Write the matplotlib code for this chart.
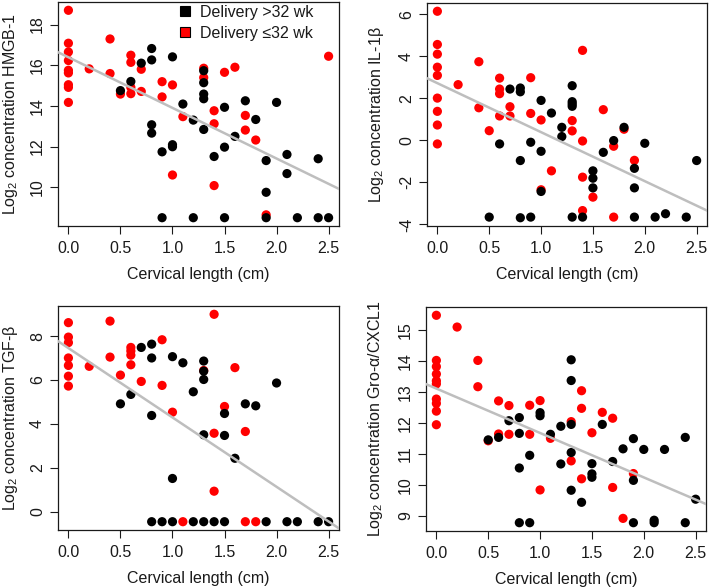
import matplotlib
matplotlib.use("Agg")
import matplotlib.pyplot as plt
from matplotlib.lines import Line2D
import numpy as np

plt.rcParams['font.family'] = ['Liberation Sans', 'DejaVu Sans']
plt.rcParams['mathtext.fontset'] = 'custom'
plt.rcParams['mathtext.rm'] = 'Liberation Sans'
plt.rcParams['mathtext.it'] = 'Liberation Sans:italic'
plt.rcParams['axes.unicode_minus'] = False

# ---------------- data ----------------
hmgb_red_x = [0, 0, 0, 0, 0, 0, 0, 0, 0, 0.2, 0.4, 0.4, 0.5, 0.6, 0.6, 0.6, 0.6, 0.7, 0.7,
              0.9, 0.9, 1.0, 1.0, 1.1, 1.3, 1.3, 1.4, 1.4, 1.4, 1.5, 1.6, 1.7, 1.7, 1.8, 1.9, 2.5]
hmgb_red_y = [18.7, 17.08, 16.65, 16.23, 15.75, 15.62, 15.04, 14.91, 14.17, 15.82, 17.29, 15.59,
              14.58, 16.49, 16.14, 14.91, 14.6, 15.8, 14.71, 15.19, 14.44, 15.03, 10.6, 13.47,
              15.85, 15.39, 13.76, 13.12, 10.08, 15.65, 15.9, 13.53, 12.81, 12.32, 8.64, 16.44]
hmgb_black_x = [0.5, 0.6, 0.7, 0.8, 0.8, 0.8, 0.8, 0.9, 0.9, 1.0, 1.0, 1.0, 1.1, 1.2, 1.2,
                1.3, 1.3, 1.3, 1.3, 1.3, 1.4, 1.5, 1.5, 1.5, 1.6, 1.7, 1.8, 1.9, 1.9, 1.9,
                2.0, 2.1, 2.1, 2.2, 2.4, 2.4, 2.5]
hmgb_black_y = [14.75, 15.2, 16.1, 16.82, 16.26, 13.07, 12.66, 11.74, 8.5, 16.41, 12.09, 11.99,
                14.09, 13.3, 8.5, 15.73, 15.14, 14.58, 14.35, 12.84, 11.51, 13.93, 11.97, 8.5,
                12.5, 14.25, 13.33, 11.31, 9.75, 8.5, 14.17, 11.61, 10.67, 8.5, 11.4, 8.5, 8.5]

il_red_x = [0, 0, 0, 0, 0, 0, 0, 0, 0, 0.2, 0.4, 0.4, 0.5, 0.6, 0.6, 0.6, 0.6, 0.7, 0.7,
            0.9, 0.9, 1.0, 1.0, 1.1, 1.3, 1.3, 1.4, 1.4, 1.4, 1.4, 1.5, 1.6, 1.7, 1.7, 1.8, 1.9]
il_red_y = [6.14, 4.56, 4.1, 3.48, 3.09, 2.01, 1.38, 0.73, -0.17, 2.65, 3.74, 1.55, 0.46,
            2.96, 2.44, 2.22, 1.16, 1.6, 1.16, 2.98, 1.28, 0.97, -2.35, -1.45, 0.94, 0.45,
            4.28, -0.03, -1.75, -3.34, -2.7, 1.46, -0.28, -3.65, 0.53, -0.95]
il_black_x = [0.5, 0.6, 0.7, 0.8, 0.8, 0.8, 0.8, 0.9, 0.9, 1.0, 1.0, 1.0, 1.1, 1.2, 1.2,
              1.3, 1.3, 1.3, 1.3, 1.3, 1.4, 1.5, 1.5, 1.5, 1.6, 1.7, 1.8, 1.9, 1.9, 1.9,
              2.0, 2.1, 2.2, 2.4, 2.5]
il_black_y = [-3.65, -0.17, 2.44, 2.49, 2.31, -0.96, -3.68, -0.09, -3.65, 1.9, -0.52, -2.43,
              1.3, 0.62, 0.18, 2.6, 1.84, 1.73, 1.62, -3.65, -3.65, -1.45, -1.8, -2.26,
              -0.57, -0.01, 0.62, -1.33, -2.26, -3.65, -0.14, -3.65, -3.49, -3.65, -0.96]

tgf_red_x = [0, 0, 0, 0, 0, 0, 0, 0.2, 0.4, 0.4, 0.5, 0.6, 0.6, 0.6, 0.6, 0.7, 0.9, 0.9,
             1.0, 1.1, 1.3, 1.4, 1.4, 1.4, 1.5, 1.6, 1.7, 1.7, 1.8]
tgf_red_y = [8.61, 7.95, 7.7, 7.0, 6.66, 6.17, 5.72, 6.62, 8.68, 7.04, 6.22, 7.48, 7.32, 7.13,
             6.69, 5.93, 7.83, 5.75, 4.53, -0.46, 6.43, 8.99, 3.57, 0.93, 4.79, 6.56, 3.65,
             -0.46, -0.46]
tgf_black_x = [0.5, 0.6, 0.7, 0.8, 0.8, 0.8, 0.8, 0.9, 1.0, 1.0, 1.0, 1.1, 1.2, 1.2, 1.3,
               1.3, 1.3, 1.3, 1.3, 1.4, 1.5, 1.5, 1.5, 1.6, 1.7, 1.8, 1.9, 2.0, 2.1, 2.2,
               2.4, 2.5]
tgf_black_y = [4.91, 5.34, 7.48, 7.63, 7.0, 4.38, -0.46, -0.46, 7.06, 1.51, -0.46, 6.78,
               5.46, -0.46, 6.86, 6.4, 6.02, 3.5, -0.46, -0.46, 4.47, 3.47, -0.46, 2.43,
               4.91, 4.82, -0.46, 5.86, -0.46, -0.46, -0.46, -0.46]

gro_red_x = [0, 0, 0, 0, 0, 0, 0, 0, 0, 0, 0.2, 0.4, 0.4, 0.5, 0.6, 0.6, 0.7, 0.7, 0.9, 0.9,
             1.0, 1.0, 1.1, 1.3, 1.3, 1.4, 1.4, 1.4, 1.5, 1.6, 1.7, 1.7, 1.8, 1.9]
gro_red_y = [15.49, 14.03, 13.83, 13.59, 13.37, 13.27, 12.78, 12.64, 12.39, 11.95, 15.11,
             14.03, 13.18, 11.43, 12.72, 11.65, 12.57, 11.64, 12.58, 11.64, 12.73, 9.84,
             11.51, 12.05, 10.78, 13.05, 12.48, 10.2, 11.69, 12.35, 12.16, 9.92, 8.92, 10.37]
gro_black_x = [0.5, 0.6, 0.7, 0.8, 0.8, 0.8, 0.8, 0.9, 0.9, 1.0, 1.0, 1.1, 1.2, 1.2, 1.3,
               1.3, 1.3, 1.3, 1.3, 1.4, 1.5, 1.5, 1.5, 1.6, 1.7, 1.8, 1.9, 1.9, 1.9, 2.0,
               2.1, 2.1, 2.2, 2.4, 2.4, 2.5]
gro_black_y = [11.46, 11.54, 12.08, 12.18, 11.67, 10.55, 8.78, 10.96, 8.78, 12.34, 12.24,
               11.64, 11.9, 10.68, 14.05, 13.38, 11.96, 11.05, 9.83, 9.44, 10.69, 10.36,
               10.25, 11.96, 10.76, 11.17, 11.5, 10.15, 8.78, 11.15, 8.86, 8.78, 11.15,
               11.54, 8.78, 9.54]

# regression lines (intercept, slope)
hmgb_fit = [16.39, -2.49]
il_fit = [2.72, -2.33]
tgf_fit = [7.45, -3.16]
gro_fit = [13.12, -1.437]

y_labels = [r'Log$_2$ concentration HMGB-1', r'Log$_2$ concentration IL-1β',
            r'Log$_2$ concentration TGF-β', r'Log$_2$ concentration Gro-α/CXCL1']
y_ticks = [[10, 12, 14, 16, 18], [-4, -2, 0, 2, 4, 6], [0, 2, 4, 6, 8],
           [9, 10, 11, 12, 13, 14, 15]]
x_ticks = [0.0, 0.5, 1.0, 1.5, 2.0, 2.5]
x_label = 'Cervical length (cm)'
legend_labels = ['Delivery >32 wk', 'Delivery ≤32 wk']

panels = [
    (hmgb_red_x, hmgb_red_y, hmgb_black_x, hmgb_black_y, hmgb_fit),
    (il_red_x, il_red_y, il_black_x, il_black_y, il_fit),
    (tgf_red_x, tgf_red_y, tgf_black_x, tgf_black_y, tgf_fit),
    (gro_red_x, gro_red_y, gro_black_x, gro_black_y, gro_fit),
]

W, H = 709, 587
fig = plt.figure(figsize=(W / 100, H / 100), dpi=100)

# axes boxes in pixel: left, top, right, bottom
boxes = [(58, 2, 339, 226), (427, 3, 707, 226), (58, 306, 339, 530), (426, 307, 706, 531)]
label_x = [-0.137, -0.145, -0.137, -0.145]

FS = 11.5
TXT = '#1a1a1a'
for i, (rx, ry, bx, by, fit) in enumerate(panels):
    l, t, r, b = boxes[i]
    ax = fig.add_axes([l / W, 1 - b / H, (r - l) / W, (b - t) / H])
    ax.scatter(rx, ry, s=44, c='#ff0000', edgecolors='none', zorder=2)
    ax.scatter(bx, by, s=44, c='black', edgecolors='none', zorder=3)
    ax.axline((0, fit[0]), slope=fit[1], color='#bebebe', lw=1.8, zorder=4)
    ally = np.array(ry + by)
    span = ally.max() - ally.min()
    ax.set_ylim(ally.min() - 0.04 * span, ally.max() + 0.04 * span)
    ax.set_xlim(-0.1, 2.6)
    ax.set_xticks(x_ticks)
    ax.set_xticklabels([f'{v:.1f}' for v in x_ticks])
    ax.set_yticks(y_ticks[i])
    ax.set_yticklabels([str(v) for v in y_ticks[i]], rotation=90, va='center')
    ax.tick_params(length=6, width=0.8, labelsize=FS, color=TXT, labelcolor=TXT)
    ax.tick_params(axis='x', pad=5)
    ax.tick_params(axis='y', pad=3.3)
    for sp in ax.spines.values():
        sp.set_linewidth(0.9)
        sp.set_color(TXT)
    ax.set_xlabel(x_label, fontsize=FS, labelpad=8, color=TXT)
    ax.set_ylabel(y_labels[i], fontsize=FS, color=TXT)
    ax.yaxis.set_label_coords(label_x[i], 0.5)
    if i == 0:
        handles = [Line2D([], [], ls='none', marker='s', markersize=6.5,
                          markerfacecolor=c, markeredgecolor='black', markeredgewidth=0.8)
                   for c in ['black', '#ff0000']]
        ax.legend(handles, legend_labels, loc='upper left', bbox_to_anchor=(0.4306, 0.987),
                  frameon=False, fontsize=FS, handletextpad=0.6, labelspacing=0.35,
                  handlelength=0.7, borderaxespad=0, borderpad=0, labelcolor=TXT)

fig.savefig('out.png', dpi=100)
